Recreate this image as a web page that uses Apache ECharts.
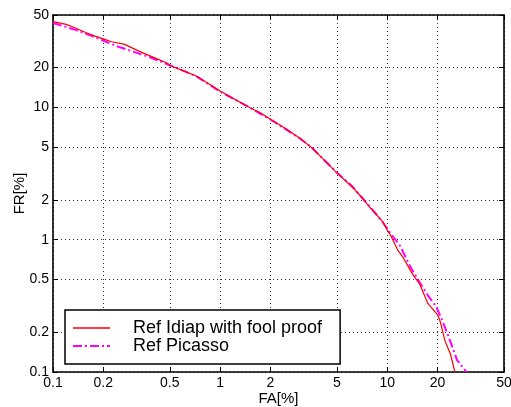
<!DOCTYPE html>
<html>
<head>
<meta charset="utf-8">
<script src="https://cdn.jsdelivr.net/npm/echarts@6/dist/echarts.min.js"></script>
<style>
html,body{margin:0;padding:0;background:#fff;}
#chart{width:511px;height:407px;}
</style>
</head>
<body>
<div id="chart"></div>
<script>
var tickValues = [0.1, 0.2, 0.5, 1, 2, 5, 10, 20, 50];

var idiapFA = [0.1, 0.12, 0.135, 0.158, 0.18, 0.204, 0.224, 0.269, 0.31, 0.362, 0.42, 0.477, 0.511, 0.6, 0.721, 0.85, 1.0, 1.2, 1.5, 1.73, 2.07, 2.49, 2.99, 3.52, 4.04, 4.96, 6.24, 7.17, 7.86, 8.22, 9.44, 9.89, 10.6, 11.6, 12.4, 14.3, 15.6, 17.5, 20.1, 20.8, 22.1, 23.9, 25.4];
var idiapFR = [44.5, 42.5, 40, 36.7, 34.5, 32.7, 31.4, 30, 27.5, 25.2, 23.3, 21.8, 20.6, 19, 17.3, 15.2, 13.3, 11.7, 10, 9.16, 7.93, 6.86, 5.87, 4.99, 4.19, 3.23, 2.47, 2.04, 1.76, 1.66, 1.36, 1.21, 1.05, 0.83, 0.74, 0.54, 0.466, 0.33, 0.269, 0.239, 0.174, 0.137, 0.1];

var picassoFA = [0.1, 0.115, 0.138, 0.166, 0.199, 0.24, 0.294, 0.362, 0.435, 0.511, 0.6, 0.72, 1.0, 1.5, 2.07, 2.99, 3.52, 4.96, 6.24, 7.86, 9.23, 10.35, 11.9, 13.96, 15.6, 17.5, 19.7, 21.1, 23.1, 26.2, 29.8];
var picassoFR = [43.5, 41.2, 38.4, 35.2, 32.1, 29.1, 26.7, 24.5, 22.4, 20.6, 19, 17.2, 13.2, 10, 7.9, 5.85, 5.0, 3.25, 2.5, 1.78, 1.4, 1.14, 0.906, 0.604, 0.479, 0.38, 0.31, 0.254, 0.19, 0.123, 0.1];

var seriesNames = ['Ref Idiap with fool proof', 'Ref Picasso'];

function pairs(xs, ys) {
  return xs.map(function (x, i) { return [x, ys[i]]; });
}

var FONT = 'Liberation Sans, Arial, Helvetica, sans-serif';

function fmt(v) {
  var r = Math.round(v * 1000) / 1000;
  return String(r);
}

function makeAxis(pos, name, isX, show) {
  return {
    type: 'log',
    logBase: 10,
    position: pos,
    min: 0.1,
    max: 50,
    name: show ? name : '',
    nameLocation: 'middle',
    nameGap: isX ? 19.5 : 25.5,
    nameMoveOverlap: false,
    nameTextStyle: { color: '#000', fontSize: 15, fontFamily: FONT },
    axisLine: { show: true, onZero: false, lineStyle: { color: '#000', width: 1.6 } },
    axisTick: { show: true, inside: true, length: 5, customValues: tickValues, lineStyle: { color: '#000', width: 1 } },
    minorTick: { show: false },
    axisLabel: {
      show: show,
      customValues: tickValues,
      formatter: fmt,
      color: '#000',
      fontSize: 14,
      fontFamily: FONT,
      margin: 4,
      hideOverlap: false,
      showMinLabel: true,
      showMaxLabel: true
    },
    splitLine: show ? { show: true, lineStyle: { color: '#333', type: [1, 3], width: 1 } } : { show: false },
    minorSplitLine: { show: false }
  };
}

var chart = echarts.init(document.getElementById('chart'), null, { renderer: 'canvas' });
chart.setOption({
  animation: false,
  backgroundColor: '#fff',
  grid: { left: 53, top: 15, right: 7, bottom: 35, containLabel: false, outerBoundsMode: 'none' },
  xAxis: [makeAxis('bottom', 'FA[%]', true, true), makeAxis('top', '', true, false)],
  yAxis: [makeAxis('left', 'FR[%]', false, true), makeAxis('right', '', false, false)],
  legend: {
    orient: 'vertical',
    left: 65,
    top: 310,
    padding: [9, 18, 9, 8],
    itemGap: 0,
    itemWidth: 37,
    itemHeight: 14,
    backgroundColor: '#fff',
    borderColor: '#000',
    borderWidth: 1.5,
    borderRadius: 0,
    selectedMode: false,
    textStyle: { color: '#000', fontSize: 18, fontFamily: FONT, lineHeight: 17, padding: [0, 0, 0, 18] },
    data: [
      { name: seriesNames[0], icon: 'path://M0,0 L37,0 L37,1.5 L0,1.5 Z' },
      { name: seriesNames[1], icon: 'path://M0,0 L9,0 L9,2 L0,2 Z M12,0 L14,0 L14,2 L12,2 Z M17,0 L26,0 L26,2 L17,2 Z M29,0 L31,0 L31,2 L29,2 Z M34,0 L37,0 L37,2 L34,2 Z' }
    ]
  },
  series: [
    {
      name: seriesNames[0],
      type: 'line',
      xAxisIndex: 0,
      yAxisIndex: 0,
      data: pairs(idiapFA, idiapFR),
      showSymbol: false,
      symbol: 'none',
      z: 3,
      lineStyle: { color: '#ff0000', width: 1.2 },
      itemStyle: { color: '#ff0000' }
    },
    {
      name: seriesNames[1],
      type: 'line',
      xAxisIndex: 0,
      yAxisIndex: 0,
      data: pairs(picassoFA, picassoFR),
      showSymbol: false,
      symbol: 'none',
      z: 2,
      lineStyle: { color: '#ff00ff', width: 2, type: [9, 3, 2, 3] },
      itemStyle: { color: '#ff00ff' }
    }
  ]
});
</script>
</body>
</html>
